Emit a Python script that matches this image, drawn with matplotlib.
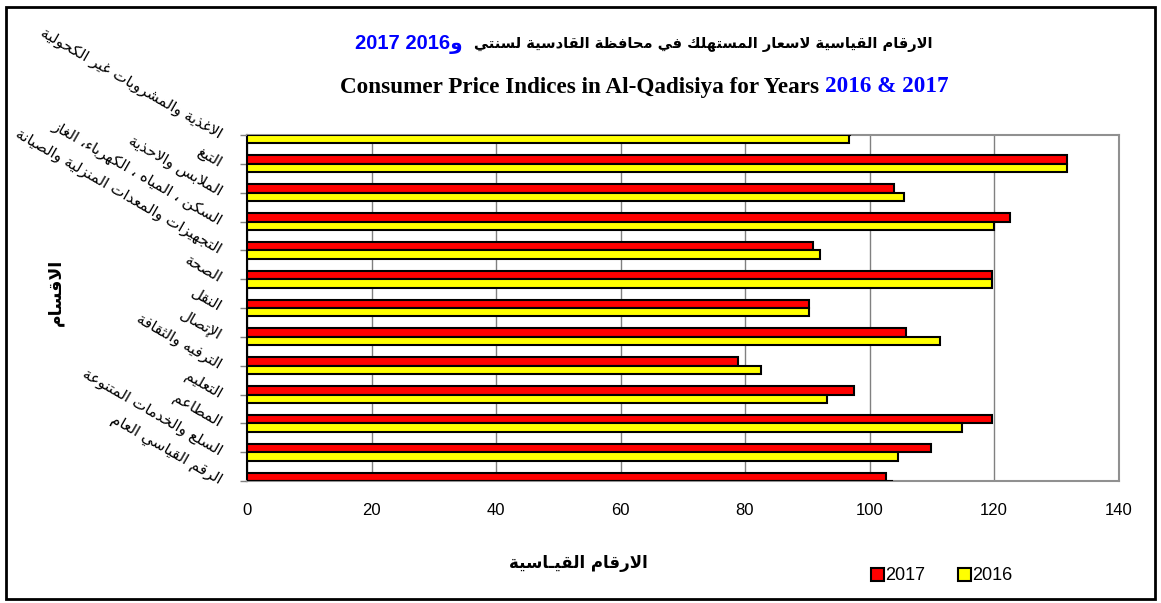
import re
import matplotlib
matplotlib.use('Agg')
import matplotlib.pyplot as plt
from matplotlib.patches import Patch, Rectangle

# --- minimal arabic shaping (presentation forms) + visual ordering ---
_counts = [1, 2, 2, 2, 2, 4, 2, 4, 2, 4, 4, 4, 4, 4, 2, 2, 2, 2, 4, 4, 4, 4, 4, 4, 4, 4,
           4, 4, 4, 4, 4, 4, 4, 2, 2, 4]
_codes = list(range(0x621, 0x63B)) + list(range(0x641, 0x64B))
FORMS = {}
_b = 0xFE80
for cp, n in zip(_codes, _counts):
    FORMS[chr(cp)] = (_b, n)
    _b += n
LAMALEF = {'\u0622': 0xFEF5, '\u0623': 0xFEF7, '\u0625': 0xFEF9, '\u0627': 0xFEFB}
TATWEEL = '\u0640'


def _dual(c):
    return c == TATWEEL or (c in FORMS and FORMS[c][1] == 4)


def _joins(c):
    return c == TATWEEL or (c in FORMS and FORMS[c][1] >= 2)


def ar(s):
    out = []
    i, n = 0, len(s)
    while i < n:
        c = s[i]
        pj = i > 0 and _dual(s[i - 1])
        if c == '\u0644' and i + 1 < n and s[i + 1] in LAMALEF:
            out.append(chr(LAMALEF[s[i + 1]] + (1 if pj else 0)))
            i += 2
            continue
        if c in FORMS:
            base, cnt = FORMS[c]
            nj = cnt == 4 and i + 1 < n and _joins(s[i + 1])
            pj = pj and cnt >= 2
            if cnt == 1:
                g = base
            elif pj and nj:
                g = base + 3
            elif nj:
                g = base + 2
            elif pj:
                g = base + 1
            else:
                g = base
            out.append(chr(g))
        else:
            out.append(c)
        i += 1
    vis = ''.join(out)[::-1]
    return re.sub(r'[0-9A-Za-z.&()]+', lambda m: m.group(0)[::-1], vis)


# --- data ---
categories = [
    'الاغذية والمشروبات غير الكحولية',
    'التبغ',
    'الملابس والاحذية',
    'السكن ، المياه ، الكهرباء، الغاز',
    'التجهيزات والمعدات المنزلية والصيانة',
    'الصحة',
    'النقل',
    'الإتصال',
    'الترفيه والثقافة',
    'التعليم',
    'المطاعم',
    'السلع والخدمات المتنوعة',
    'الرقم القياسي العام',
]
val_2017 = [96.9, 131.8, 104.0, 122.6, 91.0, 119.6, 90.3, 105.8, 78.8, 97.5, 119.6, 109.8, 102.7]
val_2016 = [96.7, 131.8, 105.5, 120.0, 92.0, 119.7, 90.3, 111.4, 82.6, 93.1, 114.9, 104.5, 103.6]
x_ticks = [0, 20, 40, 60, 80, 100, 120, 140]

W, H = 1161, 603
fig = plt.figure(figsize=(W / 100, H / 100), dpi=100)
ax = fig.add_axes([247 / W, 1 - 481 / H, (1118.5 - 247) / W, (481 - 135) / H])

n = len(categories)
pos = [n - 1 - i for i in range(n)]
h = 0.29
ax.barh([p + h / 2 for p in pos], val_2017, height=h, color='#FF0000',
        edgecolor='black', linewidth=1.5, zorder=3, label='2017')
ax.barh([p - h / 2 for p in pos], val_2016, height=h, color='#FFFF00',
        edgecolor='black', linewidth=1.5, zorder=3, label='2016')

ax.set_xlim(0, 140)
ax.set_ylim(0, n - 1)
ax.set_xticks(x_ticks)
ax.set_xticklabels([str(t) for t in x_ticks], family='Liberation Sans', fontsize=12)
ax.tick_params(axis='x', length=0, pad=16)
ax.set_yticks(pos)
ax.set_yticklabels([ar(c) for c in categories], family='DejaVu Sans', fontsize=11,
                   rotation=-30, ha='right', va='center', rotation_mode='anchor')
ax.tick_params(axis='y', length=5, color='#808080', width=1, pad=14)
ax.grid(axis='x', color='#808080', linewidth=1, zorder=0)
for s in ['top', 'right', 'bottom']:
    ax.spines[s].set_color('#909090')
    ax.spines[s].set_linewidth(1.5)
ax.spines['left'].set_color('black')
ax.spines['left'].set_linewidth(1.5)

# titles
ttl = fig.text(932 / W, 1 - 45 / H, ar('الارقام القياسية لاسعار المستهلك في محافظة القادسية لسنتي'),
               ha='right', va='center', family='DejaVu Sans', fontweight='bold', fontsize=13)
fig.canvas.draw()
w0 = ttl.get_window_extent().width
ttl.set_fontsize(min(13.5, 13 * 457 / w0))
fig.text(463 / W, 1 - 45 / H, ar('و2016 2017'), ha='right', va='center',
         family=['Liberation Sans', 'DejaVu Sans'], fontweight='bold', fontsize=14.5,
         color='#0000FF')
t1 = fig.text(340 / W, 1 - 87 / H, 'Consumer Price Indices in Al-Qadisiya for Years ',
              ha='left', va='center', family='Liberation Serif', fontweight='bold', fontsize=16.7)
fig.canvas.draw()
bb = t1.get_window_extent()
fig.text(bb.x1 / W, 1 - 87 / H, '2016 & 2017', ha='left', va='center',
         family='Liberation Serif', fontweight='bold', fontsize=16.7, color='#0000FF')

fig.text(578 / W, 1 - 563 / H, ar('الارقام القيـاسية'), ha='center', va='center',
         family='DejaVu Sans', fontweight='bold', fontsize=12)
fig.text(55 / W, 1 - 292 / H, ar('الاقسام'), ha='center', va='center', rotation=90,
         family='DejaVu Sans', fontweight='bold', fontsize=12.5)

fig.text(20 / W, 1 + 4 / H, 'Figure (1)', ha='left', va='baseline', family='Liberation Sans', fontsize=12)

handles = [Patch(facecolor='#FF0000', edgecolor='black', linewidth=1.5),
           Patch(facecolor='#FFFF00', edgecolor='black', linewidth=1.5)]
fig.legend(handles, ['2017', '2016'], loc='center', bbox_to_anchor=(942 / W, 1 - 576 / H),
           ncol=2, frameon=False, handlelength=0.7, handleheight=0.7, handletextpad=0.1,
           columnspacing=1.8, prop={'family': 'Liberation Sans', 'size': 13})

fig.patches.append(Rectangle((6 / W, 1 - 599 / H), (1155 - 6) / W, (599 - 7) / H,
                             transform=fig.transFigure, fill=False, edgecolor='black',
                             linewidth=2, zorder=10))

fig.savefig('out.png', dpi=100)
